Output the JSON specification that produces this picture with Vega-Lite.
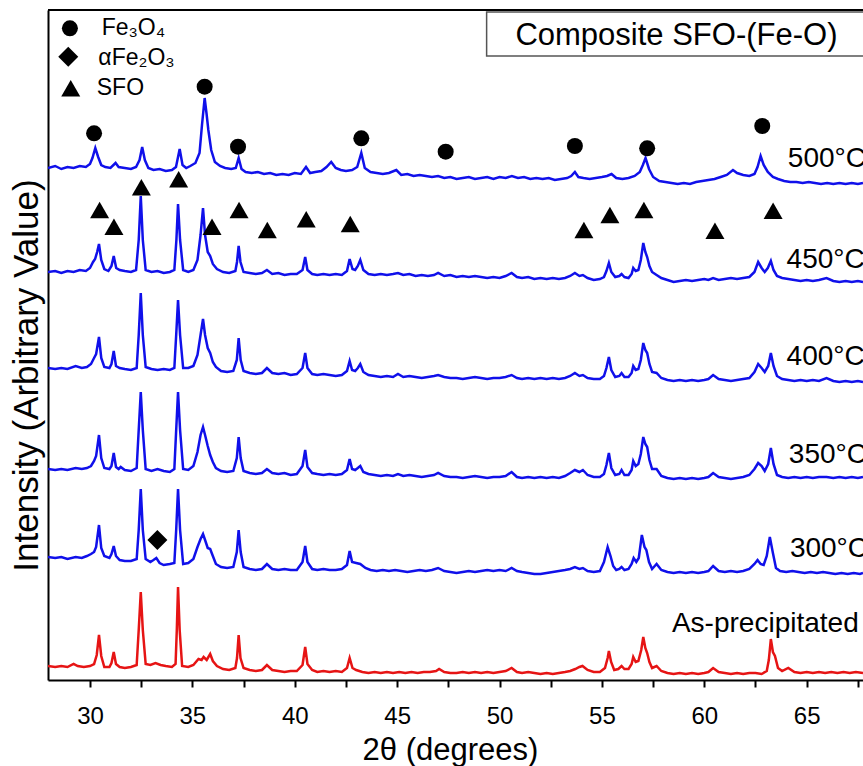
{
"$schema": "https://vega.github.io/schema/vega-lite/v6.json",
"width": 815, "height": 670,
"autosize": {"type": "none"},
"padding": {"left": 48, "top": 10, "right": 0, "bottom": 86},
"background": "white",
"config": {
 "font": "Liberation Sans",
 "view": {"stroke": null},
 "axis": {"grid": false, "domainColor": "black", "domainWidth": 2, "tickColor": "black", "tickWidth": 2, "tickSize": 7, "labelFontSize": 24, "labelColor": "black", "labelFont": "Liberation Sans", "titleFont": "Liberation Sans", "titleFontSize": 31, "titleFontWeight": "normal", "titleColor": "black"}
},
"datasets": {
"xrd": [
{"s":"500","x":27.95,"y":512},{"s":"500","x":28.3,"y":514},{"s":"500","x":28.6,"y":511},{"s":"500","x":28.9,"y":513},{"s":"500","x":29.2,"y":512},{"s":"500","x":29.5,"y":514},{"s":"500","x":29.8,"y":513},{"s":"500","x":30.0,"y":516},{"s":"500","x":30.12,"y":522},{"s":"500","x":30.26,"y":532},{"s":"500","x":30.4,"y":523},{"s":"500","x":30.55,"y":515},{"s":"500","x":30.75,"y":513},{"s":"500","x":31.0,"y":512},{"s":"500","x":31.25,"y":517},{"s":"500","x":31.4,"y":513},{"s":"500","x":31.7,"y":512},{"s":"500","x":32.0,"y":511},{"s":"500","x":32.25,"y":513},{"s":"500","x":32.42,"y":520},{"s":"500","x":32.55,"y":533},{"s":"500","x":32.68,"y":520},{"s":"500","x":32.85,"y":512},{"s":"500","x":33.1,"y":510},{"s":"500","x":33.4,"y":511},{"s":"500","x":33.7,"y":509},{"s":"500","x":34.0,"y":510},{"s":"500","x":34.2,"y":513},{"s":"500","x":34.38,"y":531},{"s":"500","x":34.52,"y":515},{"s":"500","x":34.7,"y":512},{"s":"500","x":34.9,"y":514},{"s":"500","x":35.15,"y":517},{"s":"500","x":35.35,"y":527},{"s":"500","x":35.47,"y":555},{"s":"500","x":35.6,"y":582},{"s":"500","x":35.7,"y":565},{"s":"500","x":35.78,"y":550},{"s":"500","x":35.92,"y":530},{"s":"500","x":36.1,"y":518},{"s":"500","x":36.35,"y":514},{"s":"500","x":36.6,"y":512},{"s":"500","x":36.9,"y":511},{"s":"500","x":37.12,"y":512},{"s":"500","x":37.26,"y":522},{"s":"500","x":37.4,"y":511},{"s":"500","x":37.6,"y":508},{"s":"500","x":37.9,"y":507},{"s":"500","x":38.2,"y":508},{"s":"500","x":38.5,"y":506},{"s":"500","x":38.8,"y":507},{"s":"500","x":39.1,"y":505},{"s":"500","x":39.4,"y":506},{"s":"500","x":39.7,"y":505},{"s":"500","x":40.0,"y":507},{"s":"500","x":40.3,"y":506},{"s":"500","x":40.55,"y":513},{"s":"500","x":40.75,"y":507},{"s":"500","x":41.0,"y":508},{"s":"500","x":41.3,"y":509},{"s":"500","x":41.55,"y":513},{"s":"500","x":41.78,"y":518},{"s":"500","x":42.0,"y":512},{"s":"500","x":42.25,"y":510},{"s":"500","x":42.5,"y":509},{"s":"500","x":42.8,"y":510},{"s":"500","x":43.05,"y":513},{"s":"500","x":43.25,"y":527},{"s":"500","x":43.42,"y":512},{"s":"500","x":43.7,"y":508},{"s":"500","x":44.0,"y":507},{"s":"500","x":44.3,"y":506},{"s":"500","x":44.6,"y":507},{"s":"500","x":44.96,"y":510},{"s":"500","x":45.2,"y":505},{"s":"500","x":45.5,"y":506},{"s":"500","x":45.8,"y":504},{"s":"500","x":46.1,"y":505},{"s":"500","x":46.4,"y":504},{"s":"500","x":46.7,"y":503},{"s":"500","x":47.0,"y":504},{"s":"500","x":47.3,"y":502},{"s":"500","x":47.6,"y":503},{"s":"500","x":47.9,"y":501},{"s":"500","x":48.2,"y":502},{"s":"500","x":48.5,"y":503},{"s":"500","x":48.8,"y":501},{"s":"500","x":49.1,"y":502},{"s":"500","x":49.4,"y":503},{"s":"500","x":49.7,"y":501},{"s":"500","x":50.0,"y":503},{"s":"500","x":50.3,"y":502},{"s":"500","x":50.6,"y":504},{"s":"500","x":50.9,"y":502},{"s":"500","x":51.2,"y":503},{"s":"500","x":51.5,"y":501},{"s":"500","x":51.8,"y":502},{"s":"500","x":52.1,"y":501},{"s":"500","x":52.4,"y":502},{"s":"500","x":52.7,"y":500},{"s":"500","x":53.0,"y":501},{"s":"500","x":53.3,"y":502},{"s":"500","x":53.5,"y":504},{"s":"500","x":53.68,"y":508},{"s":"500","x":53.85,"y":503},{"s":"500","x":54.1,"y":502},{"s":"500","x":54.4,"y":501},{"s":"500","x":54.7,"y":502},{"s":"500","x":55.0,"y":503},{"s":"500","x":55.25,"y":504},{"s":"500","x":55.47,"y":506},{"s":"500","x":55.7,"y":502},{"s":"500","x":56.0,"y":501},{"s":"500","x":56.3,"y":502},{"s":"500","x":56.6,"y":504},{"s":"500","x":56.85,"y":508},{"s":"500","x":57.0,"y":515},{"s":"500","x":57.13,"y":522},{"s":"500","x":57.3,"y":511},{"s":"500","x":57.5,"y":503},{"s":"500","x":57.8,"y":499},{"s":"500","x":58.1,"y":498},{"s":"500","x":58.4,"y":497},{"s":"500","x":58.7,"y":496},{"s":"500","x":59.0,"y":497},{"s":"500","x":59.3,"y":496},{"s":"500","x":59.6,"y":498},{"s":"500","x":59.9,"y":499},{"s":"500","x":60.2,"y":500},{"s":"500","x":60.5,"y":501},{"s":"500","x":60.8,"y":503},{"s":"500","x":61.1,"y":505},{"s":"500","x":61.4,"y":510},{"s":"500","x":61.6,"y":507},{"s":"500","x":61.9,"y":505},{"s":"500","x":62.2,"y":504},{"s":"500","x":62.45,"y":506},{"s":"500","x":62.6,"y":513},{"s":"500","x":62.75,"y":524},{"s":"500","x":62.9,"y":515},{"s":"500","x":63.1,"y":508},{"s":"500","x":63.35,"y":503},{"s":"500","x":63.6,"y":501},{"s":"500","x":63.9,"y":499},{"s":"500","x":64.2,"y":498},{"s":"500","x":64.5,"y":498},{"s":"500","x":64.8,"y":497},{"s":"500","x":65.1,"y":498},{"s":"500","x":65.4,"y":497},{"s":"500","x":65.7,"y":496},{"s":"500","x":66.0,"y":497},{"s":"500","x":66.3,"y":496},{"s":"500","x":66.6,"y":497},{"s":"500","x":66.9,"y":496},{"s":"500","x":67.2,"y":497},{"s":"500","x":67.5,"y":496},{"s":"500","x":67.75,"y":497},
{"s":"450","x":27.95,"y":408},{"s":"450","x":28.3,"y":409},{"s":"450","x":28.6,"y":407},{"s":"450","x":28.9,"y":409},{"s":"450","x":29.2,"y":408},{"s":"450","x":29.5,"y":410},{"s":"450","x":29.8,"y":409},{"s":"450","x":30.0,"y":412},{"s":"450","x":30.15,"y":418},{"s":"450","x":30.25,"y":421},{"s":"450","x":30.35,"y":428},{"s":"450","x":30.44,"y":436},{"s":"450","x":30.55,"y":420},{"s":"450","x":30.7,"y":411},{"s":"450","x":30.9,"y":409},{"s":"450","x":31.05,"y":414},{"s":"450","x":31.16,"y":424},{"s":"450","x":31.28,"y":412},{"s":"450","x":31.45,"y":410},{"s":"450","x":31.7,"y":409},{"s":"450","x":32.0,"y":408},{"s":"450","x":32.25,"y":410},{"s":"450","x":32.38,"y":440},{"s":"450","x":32.48,"y":484},{"s":"450","x":32.58,"y":440},{"s":"450","x":32.72,"y":410},{"s":"450","x":33.0,"y":408},{"s":"450","x":33.3,"y":409},{"s":"450","x":33.6,"y":407},{"s":"450","x":33.9,"y":408},{"s":"450","x":34.12,"y":410},{"s":"450","x":34.22,"y":440},{"s":"450","x":34.3,"y":476},{"s":"450","x":34.4,"y":440},{"s":"450","x":34.55,"y":410},{"s":"450","x":34.8,"y":408},{"s":"450","x":35.05,"y":410},{"s":"450","x":35.25,"y":420},{"s":"450","x":35.4,"y":445},{"s":"450","x":35.52,"y":472},{"s":"450","x":35.62,"y":445},{"s":"450","x":35.75,"y":428},{"s":"450","x":35.87,"y":424},{"s":"450","x":36.0,"y":416},{"s":"450","x":36.2,"y":411},{"s":"450","x":36.5,"y":408},{"s":"450","x":36.8,"y":407},{"s":"450","x":37.1,"y":409},{"s":"450","x":37.18,"y":418},{"s":"450","x":37.26,"y":434},{"s":"450","x":37.35,"y":418},{"s":"450","x":37.5,"y":408},{"s":"450","x":37.8,"y":407},{"s":"450","x":38.1,"y":406},{"s":"450","x":38.4,"y":407},{"s":"450","x":38.64,"y":410},{"s":"450","x":38.9,"y":406},{"s":"450","x":39.2,"y":407},{"s":"450","x":39.5,"y":405},{"s":"450","x":39.8,"y":406},{"s":"450","x":40.1,"y":406},{"s":"450","x":40.38,"y":410},{"s":"450","x":40.51,"y":423},{"s":"450","x":40.62,"y":410},{"s":"450","x":40.85,"y":406},{"s":"450","x":41.1,"y":405},{"s":"450","x":41.4,"y":406},{"s":"450","x":41.7,"y":405},{"s":"450","x":42.0,"y":406},{"s":"450","x":42.3,"y":405},{"s":"450","x":42.55,"y":409},{"s":"450","x":42.68,"y":421},{"s":"450","x":42.82,"y":411},{"s":"450","x":42.95,"y":410},{"s":"450","x":43.08,"y":414},{"s":"450","x":43.2,"y":420},{"s":"450","x":43.35,"y":410},{"s":"450","x":43.6,"y":406},{"s":"450","x":43.9,"y":405},{"s":"450","x":44.2,"y":406},{"s":"450","x":44.5,"y":405},{"s":"450","x":44.8,"y":406},{"s":"450","x":45.04,"y":407},{"s":"450","x":45.3,"y":405},{"s":"450","x":45.6,"y":406},{"s":"450","x":45.9,"y":404},{"s":"450","x":46.2,"y":405},{"s":"450","x":46.5,"y":404},{"s":"450","x":46.8,"y":405},{"s":"450","x":47.0,"y":407},{"s":"450","x":47.3,"y":404},{"s":"450","x":47.6,"y":405},{"s":"450","x":47.9,"y":403},{"s":"450","x":48.2,"y":404},{"s":"450","x":48.5,"y":403},{"s":"450","x":48.8,"y":404},{"s":"450","x":49.1,"y":403},{"s":"450","x":49.4,"y":402},{"s":"450","x":49.7,"y":403},{"s":"450","x":50.0,"y":402},{"s":"450","x":50.3,"y":404},{"s":"450","x":50.59,"y":407},{"s":"450","x":50.85,"y":403},{"s":"450","x":51.1,"y":402},{"s":"450","x":51.4,"y":403},{"s":"450","x":51.7,"y":401},{"s":"450","x":52.0,"y":402},{"s":"450","x":52.3,"y":401},{"s":"450","x":52.6,"y":402},{"s":"450","x":52.9,"y":401},{"s":"450","x":53.2,"y":402},{"s":"450","x":53.45,"y":404},{"s":"450","x":53.68,"y":407},{"s":"450","x":53.9,"y":404},{"s":"450","x":54.07,"y":405},{"s":"450","x":54.3,"y":402},{"s":"450","x":54.6,"y":400},{"s":"450","x":54.9,"y":401},{"s":"450","x":55.1,"y":403},{"s":"450","x":55.22,"y":409},{"s":"450","x":55.34,"y":417},{"s":"450","x":55.46,"y":408},{"s":"450","x":55.65,"y":403},{"s":"450","x":55.85,"y":404},{"s":"450","x":55.96,"y":406},{"s":"450","x":56.1,"y":403},{"s":"450","x":56.3,"y":402},{"s":"450","x":56.45,"y":406},{"s":"450","x":56.53,"y":412},{"s":"450","x":56.65,"y":409},{"s":"450","x":56.78,"y":410},{"s":"450","x":56.9,"y":420},{"s":"450","x":57.02,"y":437},{"s":"450","x":57.12,"y":428},{"s":"450","x":57.21,"y":423},{"s":"450","x":57.32,"y":414},{"s":"450","x":57.45,"y":408},{"s":"450","x":57.67,"y":405},{"s":"450","x":57.9,"y":402},{"s":"450","x":58.2,"y":400},{"s":"450","x":58.5,"y":398},{"s":"450","x":58.8,"y":399},{"s":"450","x":59.1,"y":400},{"s":"450","x":59.4,"y":399},{"s":"450","x":59.7,"y":400},{"s":"450","x":60.0,"y":401},{"s":"450","x":60.2,"y":400},{"s":"450","x":60.43,"y":402},{"s":"450","x":60.7,"y":400},{"s":"450","x":61.0,"y":401},{"s":"450","x":61.3,"y":402},{"s":"450","x":61.6,"y":401},{"s":"450","x":61.9,"y":402},{"s":"450","x":62.2,"y":403},{"s":"450","x":62.45,"y":408},{"s":"450","x":62.63,"y":418},{"s":"450","x":62.8,"y":412},{"s":"450","x":62.95,"y":408},{"s":"450","x":63.1,"y":412},{"s":"450","x":63.25,"y":419},{"s":"450","x":63.38,"y":410},{"s":"450","x":63.55,"y":404},{"s":"450","x":63.8,"y":402},{"s":"450","x":64.1,"y":401},{"s":"450","x":64.4,"y":400},{"s":"450","x":64.7,"y":399},{"s":"450","x":65.0,"y":400},{"s":"450","x":65.3,"y":399},{"s":"450","x":65.6,"y":400},{"s":"450","x":65.97,"y":402},{"s":"450","x":66.3,"y":399},{"s":"450","x":66.6,"y":398},{"s":"450","x":66.9,"y":399},{"s":"450","x":67.2,"y":398},{"s":"450","x":67.5,"y":399},{"s":"450","x":67.75,"y":398},
{"s":"400","x":27.95,"y":312},{"s":"400","x":28.3,"y":311},{"s":"400","x":28.6,"y":312},{"s":"400","x":28.9,"y":311},{"s":"400","x":29.3,"y":314},{"s":"400","x":29.6,"y":312},{"s":"400","x":29.85,"y":313},{"s":"400","x":30.05,"y":316},{"s":"400","x":30.2,"y":322},{"s":"400","x":30.3,"y":326},{"s":"400","x":30.44,"y":343},{"s":"400","x":30.55,"y":322},{"s":"400","x":30.7,"y":313},{"s":"400","x":30.95,"y":312},{"s":"400","x":31.05,"y":316},{"s":"400","x":31.16,"y":329},{"s":"400","x":31.27,"y":314},{"s":"400","x":31.45,"y":312},{"s":"400","x":31.7,"y":311},{"s":"400","x":32.0,"y":310},{"s":"400","x":32.28,"y":312},{"s":"400","x":32.38,"y":345},{"s":"400","x":32.48,"y":387},{"s":"400","x":32.58,"y":345},{"s":"400","x":32.72,"y":313},{"s":"400","x":33.0,"y":311},{"s":"400","x":33.3,"y":310},{"s":"400","x":33.6,"y":311},{"s":"400","x":33.9,"y":310},{"s":"400","x":34.12,"y":312},{"s":"400","x":34.21,"y":345},{"s":"400","x":34.3,"y":380},{"s":"400","x":34.4,"y":345},{"s":"400","x":34.55,"y":312},{"s":"400","x":34.8,"y":312},{"s":"400","x":35.05,"y":314},{"s":"400","x":35.25,"y":325},{"s":"400","x":35.4,"y":345},{"s":"400","x":35.52,"y":361},{"s":"400","x":35.62,"y":345},{"s":"400","x":35.75,"y":332},{"s":"400","x":35.87,"y":327},{"s":"400","x":36.0,"y":318},{"s":"400","x":36.15,"y":313},{"s":"400","x":36.4,"y":309},{"s":"400","x":36.7,"y":308},{"s":"400","x":37.0,"y":309},{"s":"400","x":37.17,"y":320},{"s":"400","x":37.26,"y":342},{"s":"400","x":37.36,"y":320},{"s":"400","x":37.5,"y":309},{"s":"400","x":37.8,"y":307},{"s":"400","x":38.1,"y":306},{"s":"400","x":38.4,"y":307},{"s":"400","x":38.64,"y":312},{"s":"400","x":38.9,"y":307},{"s":"400","x":39.2,"y":306},{"s":"400","x":39.5,"y":307},{"s":"400","x":39.8,"y":305},{"s":"400","x":40.1,"y":306},{"s":"400","x":40.38,"y":312},{"s":"400","x":40.51,"y":327},{"s":"400","x":40.62,"y":312},{"s":"400","x":40.85,"y":306},{"s":"400","x":41.1,"y":305},{"s":"400","x":41.4,"y":306},{"s":"400","x":41.7,"y":305},{"s":"400","x":42.0,"y":304},{"s":"400","x":42.3,"y":305},{"s":"400","x":42.55,"y":309},{"s":"400","x":42.68,"y":319},{"s":"400","x":42.8,"y":310},{"s":"400","x":42.95,"y":309},{"s":"400","x":43.08,"y":312},{"s":"400","x":43.2,"y":316},{"s":"400","x":43.35,"y":308},{"s":"400","x":43.6,"y":305},{"s":"400","x":43.9,"y":304},{"s":"400","x":44.2,"y":303},{"s":"400","x":44.5,"y":304},{"s":"400","x":44.8,"y":303},{"s":"400","x":45.04,"y":306},{"s":"400","x":45.3,"y":303},{"s":"400","x":45.6,"y":304},{"s":"400","x":45.9,"y":303},{"s":"400","x":46.2,"y":302},{"s":"400","x":46.5,"y":303},{"s":"400","x":46.8,"y":304},{"s":"400","x":47.0,"y":305},{"s":"400","x":47.3,"y":303},{"s":"400","x":47.6,"y":302},{"s":"400","x":47.9,"y":302},{"s":"400","x":48.2,"y":301},{"s":"400","x":48.5,"y":302},{"s":"400","x":48.8,"y":303},{"s":"400","x":49.1,"y":302},{"s":"400","x":49.4,"y":301},{"s":"400","x":49.7,"y":302},{"s":"400","x":50.0,"y":302},{"s":"400","x":50.3,"y":303},{"s":"400","x":50.59,"y":305},{"s":"400","x":50.85,"y":302},{"s":"400","x":51.1,"y":301},{"s":"400","x":51.4,"y":302},{"s":"400","x":51.7,"y":301},{"s":"400","x":52.0,"y":302},{"s":"400","x":52.3,"y":301},{"s":"400","x":52.6,"y":302},{"s":"400","x":52.9,"y":301},{"s":"400","x":53.2,"y":302},{"s":"400","x":53.45,"y":304},{"s":"400","x":53.68,"y":307},{"s":"400","x":53.9,"y":304},{"s":"400","x":54.07,"y":305},{"s":"400","x":54.3,"y":302},{"s":"400","x":54.6,"y":301},{"s":"400","x":54.9,"y":301},{"s":"400","x":55.1,"y":304},{"s":"400","x":55.22,"y":312},{"s":"400","x":55.34,"y":323},{"s":"400","x":55.46,"y":310},{"s":"400","x":55.65,"y":303},{"s":"400","x":55.85,"y":304},{"s":"400","x":55.96,"y":307},{"s":"400","x":56.1,"y":303},{"s":"400","x":56.3,"y":303},{"s":"400","x":56.45,"y":307},{"s":"400","x":56.53,"y":314},{"s":"400","x":56.65,"y":310},{"s":"400","x":56.78,"y":311},{"s":"400","x":56.9,"y":320},{"s":"400","x":57.02,"y":337},{"s":"400","x":57.12,"y":330},{"s":"400","x":57.21,"y":327},{"s":"400","x":57.32,"y":316},{"s":"400","x":57.45,"y":308},{"s":"400","x":57.67,"y":307},{"s":"400","x":57.9,"y":302},{"s":"400","x":58.2,"y":300},{"s":"400","x":58.5,"y":299},{"s":"400","x":58.8,"y":300},{"s":"400","x":59.1,"y":299},{"s":"400","x":59.4,"y":300},{"s":"400","x":59.7,"y":299},{"s":"400","x":60.0,"y":300},{"s":"400","x":60.2,"y":301},{"s":"400","x":60.43,"y":305},{"s":"400","x":60.7,"y":301},{"s":"400","x":61.0,"y":300},{"s":"400","x":61.3,"y":299},{"s":"400","x":61.6,"y":300},{"s":"400","x":61.9,"y":301},{"s":"400","x":62.2,"y":302},{"s":"400","x":62.45,"y":308},{"s":"400","x":62.63,"y":316},{"s":"400","x":62.8,"y":312},{"s":"400","x":62.95,"y":308},{"s":"400","x":63.12,"y":314},{"s":"400","x":63.25,"y":327},{"s":"400","x":63.38,"y":314},{"s":"400","x":63.55,"y":304},{"s":"400","x":63.8,"y":301},{"s":"400","x":64.1,"y":300},{"s":"400","x":64.4,"y":299},{"s":"400","x":64.7,"y":300},{"s":"400","x":65.0,"y":299},{"s":"400","x":65.3,"y":300},{"s":"400","x":65.6,"y":299},{"s":"400","x":65.97,"y":302},{"s":"400","x":66.3,"y":299},{"s":"400","x":66.6,"y":298},{"s":"400","x":66.9,"y":299},{"s":"400","x":67.2,"y":298},{"s":"400","x":67.5,"y":299},{"s":"400","x":67.75,"y":298},
{"s":"350","x":27.95,"y":211},{"s":"350","x":28.3,"y":210},{"s":"350","x":28.6,"y":211},{"s":"350","x":28.9,"y":210},{"s":"350","x":29.3,"y":212},{"s":"350","x":29.6,"y":211},{"s":"350","x":29.85,"y":212},{"s":"350","x":30.05,"y":214},{"s":"350","x":30.2,"y":219},{"s":"350","x":30.3,"y":224},{"s":"350","x":30.44,"y":245},{"s":"350","x":30.55,"y":222},{"s":"350","x":30.7,"y":212},{"s":"350","x":30.95,"y":211},{"s":"350","x":31.05,"y":214},{"s":"350","x":31.16,"y":227},{"s":"350","x":31.27,"y":213},{"s":"350","x":31.4,"y":211},{"s":"350","x":31.5,"y":213},{"s":"350","x":31.7,"y":210},{"s":"350","x":32.0,"y":209},{"s":"350","x":32.28,"y":212},{"s":"350","x":32.38,"y":250},{"s":"350","x":32.48,"y":288},{"s":"350","x":32.58,"y":250},{"s":"350","x":32.72,"y":211},{"s":"350","x":33.0,"y":209},{"s":"350","x":33.3,"y":211},{"s":"350","x":33.6,"y":209},{"s":"350","x":33.9,"y":208},{"s":"350","x":34.12,"y":211},{"s":"350","x":34.21,"y":250},{"s":"350","x":34.3,"y":288},{"s":"350","x":34.4,"y":250},{"s":"350","x":34.55,"y":211},{"s":"350","x":34.8,"y":210},{"s":"350","x":35.05,"y":214},{"s":"350","x":35.25,"y":228},{"s":"350","x":35.4,"y":245},{"s":"350","x":35.52,"y":253},{"s":"350","x":35.62,"y":245},{"s":"350","x":35.75,"y":234},{"s":"350","x":35.87,"y":225},{"s":"350","x":36.0,"y":218},{"s":"350","x":36.15,"y":212},{"s":"350","x":36.4,"y":209},{"s":"350","x":36.7,"y":208},{"s":"350","x":37.0,"y":209},{"s":"350","x":37.17,"y":222},{"s":"350","x":37.26,"y":243},{"s":"350","x":37.36,"y":222},{"s":"350","x":37.5,"y":209},{"s":"350","x":37.8,"y":207},{"s":"350","x":38.1,"y":206},{"s":"350","x":38.4,"y":207},{"s":"350","x":38.64,"y":211},{"s":"350","x":38.9,"y":207},{"s":"350","x":39.2,"y":206},{"s":"350","x":39.5,"y":207},{"s":"350","x":39.8,"y":205},{"s":"350","x":40.1,"y":206},{"s":"350","x":40.38,"y":214},{"s":"350","x":40.51,"y":230},{"s":"350","x":40.62,"y":213},{"s":"350","x":40.85,"y":207},{"s":"350","x":41.1,"y":206},{"s":"350","x":41.4,"y":205},{"s":"350","x":41.7,"y":206},{"s":"350","x":42.0,"y":205},{"s":"350","x":42.3,"y":206},{"s":"350","x":42.55,"y":210},{"s":"350","x":42.68,"y":221},{"s":"350","x":42.8,"y":211},{"s":"350","x":42.95,"y":210},{"s":"350","x":43.08,"y":212},{"s":"350","x":43.2,"y":214},{"s":"350","x":43.35,"y":208},{"s":"350","x":43.6,"y":206},{"s":"350","x":43.9,"y":205},{"s":"350","x":44.2,"y":204},{"s":"350","x":44.5,"y":205},{"s":"350","x":44.8,"y":204},{"s":"350","x":45.04,"y":206},{"s":"350","x":45.3,"y":204},{"s":"350","x":45.6,"y":205},{"s":"350","x":45.9,"y":204},{"s":"350","x":46.2,"y":203},{"s":"350","x":46.5,"y":204},{"s":"350","x":46.8,"y":205},{"s":"350","x":47.0,"y":207},{"s":"350","x":47.3,"y":204},{"s":"350","x":47.6,"y":203},{"s":"350","x":47.9,"y":203},{"s":"350","x":48.2,"y":202},{"s":"350","x":48.5,"y":203},{"s":"350","x":48.8,"y":204},{"s":"350","x":49.1,"y":203},{"s":"350","x":49.4,"y":202},{"s":"350","x":49.7,"y":203},{"s":"350","x":50.0,"y":203},{"s":"350","x":50.3,"y":204},{"s":"350","x":50.59,"y":208},{"s":"350","x":50.85,"y":203},{"s":"350","x":51.1,"y":202},{"s":"350","x":51.4,"y":203},{"s":"350","x":51.7,"y":202},{"s":"350","x":52.0,"y":203},{"s":"350","x":52.3,"y":202},{"s":"350","x":52.6,"y":203},{"s":"350","x":52.9,"y":202},{"s":"350","x":53.2,"y":204},{"s":"350","x":53.45,"y":207},{"s":"350","x":53.68,"y":210},{"s":"350","x":53.9,"y":208},{"s":"350","x":54.07,"y":210},{"s":"350","x":54.3,"y":205},{"s":"350","x":54.6,"y":203},{"s":"350","x":54.9,"y":203},{"s":"350","x":55.1,"y":206},{"s":"350","x":55.22,"y":215},{"s":"350","x":55.34,"y":227},{"s":"350","x":55.46,"y":212},{"s":"350","x":55.65,"y":205},{"s":"350","x":55.85,"y":206},{"s":"350","x":55.96,"y":210},{"s":"350","x":56.1,"y":205},{"s":"350","x":56.3,"y":205},{"s":"350","x":56.45,"y":210},{"s":"350","x":56.53,"y":219},{"s":"350","x":56.65,"y":214},{"s":"350","x":56.78,"y":216},{"s":"350","x":56.9,"y":226},{"s":"350","x":57.02,"y":243},{"s":"350","x":57.12,"y":236},{"s":"350","x":57.21,"y":233},{"s":"350","x":57.32,"y":220},{"s":"350","x":57.45,"y":211},{"s":"350","x":57.67,"y":211},{"s":"350","x":57.9,"y":204},{"s":"350","x":58.2,"y":202},{"s":"350","x":58.5,"y":201},{"s":"350","x":58.8,"y":202},{"s":"350","x":59.1,"y":201},{"s":"350","x":59.4,"y":202},{"s":"350","x":59.7,"y":201},{"s":"350","x":60.0,"y":202},{"s":"350","x":60.2,"y":203},{"s":"350","x":60.43,"y":207},{"s":"350","x":60.7,"y":203},{"s":"350","x":61.0,"y":202},{"s":"350","x":61.3,"y":201},{"s":"350","x":61.6,"y":202},{"s":"350","x":61.9,"y":203},{"s":"350","x":62.2,"y":205},{"s":"350","x":62.45,"y":211},{"s":"350","x":62.63,"y":217},{"s":"350","x":62.8,"y":214},{"s":"350","x":62.95,"y":209},{"s":"350","x":63.12,"y":216},{"s":"350","x":63.25,"y":232},{"s":"350","x":63.38,"y":216},{"s":"350","x":63.55,"y":205},{"s":"350","x":63.8,"y":203},{"s":"350","x":64.1,"y":202},{"s":"350","x":64.4,"y":203},{"s":"350","x":64.7,"y":202},{"s":"350","x":65.0,"y":203},{"s":"350","x":65.3,"y":202},{"s":"350","x":65.6,"y":203},{"s":"350","x":65.97,"y":203},{"s":"350","x":66.3,"y":202},{"s":"350","x":66.6,"y":203},{"s":"350","x":66.9,"y":202},{"s":"350","x":67.2,"y":203},{"s":"350","x":67.5,"y":202},{"s":"350","x":67.75,"y":203},
{"s":"300","x":27.95,"y":123},{"s":"300","x":28.3,"y":122},{"s":"300","x":28.6,"y":123},{"s":"300","x":28.9,"y":121},{"s":"300","x":29.3,"y":123},{"s":"300","x":29.6,"y":122},{"s":"300","x":29.85,"y":124},{"s":"300","x":30.05,"y":126},{"s":"300","x":30.2,"y":128},{"s":"300","x":30.3,"y":133},{"s":"300","x":30.44,"y":155},{"s":"300","x":30.55,"y":132},{"s":"300","x":30.7,"y":124},{"s":"300","x":30.95,"y":122},{"s":"300","x":31.05,"y":126},{"s":"300","x":31.16,"y":134},{"s":"300","x":31.27,"y":124},{"s":"300","x":31.45,"y":120},{"s":"300","x":31.7,"y":119},{"s":"300","x":32.0,"y":119},{"s":"300","x":32.28,"y":121},{"s":"300","x":32.38,"y":150},{"s":"300","x":32.48,"y":191},{"s":"300","x":32.58,"y":150},{"s":"300","x":32.72,"y":121},{"s":"300","x":32.95,"y":118},{"s":"300","x":33.1,"y":120},{"s":"300","x":33.24,"y":122},{"s":"300","x":33.4,"y":117},{"s":"300","x":33.6,"y":115},{"s":"300","x":33.9,"y":116},{"s":"300","x":34.12,"y":117},{"s":"300","x":34.21,"y":150},{"s":"300","x":34.3,"y":191},{"s":"300","x":34.4,"y":150},{"s":"300","x":34.55,"y":116},{"s":"300","x":34.8,"y":117},{"s":"300","x":35.05,"y":121},{"s":"300","x":35.25,"y":133},{"s":"300","x":35.4,"y":141},{"s":"300","x":35.52,"y":146},{"s":"300","x":35.62,"y":140},{"s":"300","x":35.75,"y":132},{"s":"300","x":35.87,"y":131},{"s":"300","x":36.0,"y":124},{"s":"300","x":36.15,"y":116},{"s":"300","x":36.4,"y":113},{"s":"300","x":36.7,"y":112},{"s":"300","x":37.0,"y":113},{"s":"300","x":37.17,"y":128},{"s":"300","x":37.26,"y":150},{"s":"300","x":37.36,"y":128},{"s":"300","x":37.5,"y":113},{"s":"300","x":37.8,"y":111},{"s":"300","x":38.1,"y":110},{"s":"300","x":38.4,"y":111},{"s":"300","x":38.64,"y":116},{"s":"300","x":38.9,"y":111},{"s":"300","x":39.2,"y":110},{"s":"300","x":39.5,"y":111},{"s":"300","x":39.8,"y":110},{"s":"300","x":40.1,"y":110},{"s":"300","x":40.38,"y":118},{"s":"300","x":40.51,"y":134},{"s":"300","x":40.62,"y":118},{"s":"300","x":40.85,"y":111},{"s":"300","x":41.1,"y":110},{"s":"300","x":41.4,"y":111},{"s":"300","x":41.7,"y":110},{"s":"300","x":42.0,"y":110},{"s":"300","x":42.3,"y":111},{"s":"300","x":42.55,"y":115},{"s":"300","x":42.68,"y":129},{"s":"300","x":42.8,"y":118},{"s":"300","x":43.0,"y":117},{"s":"300","x":43.2,"y":116},{"s":"300","x":43.45,"y":112},{"s":"300","x":43.7,"y":110},{"s":"300","x":44.0,"y":109},{"s":"300","x":44.3,"y":110},{"s":"300","x":44.6,"y":109},{"s":"300","x":44.9,"y":110},{"s":"300","x":45.2,"y":109},{"s":"300","x":45.5,"y":108},{"s":"300","x":45.8,"y":109},{"s":"300","x":46.1,"y":110},{"s":"300","x":46.4,"y":109},{"s":"300","x":46.7,"y":110},{"s":"300","x":47.0,"y":112},{"s":"300","x":47.3,"y":109},{"s":"300","x":47.6,"y":108},{"s":"300","x":47.9,"y":107},{"s":"300","x":48.2,"y":108},{"s":"300","x":48.5,"y":109},{"s":"300","x":48.8,"y":108},{"s":"300","x":49.1,"y":109},{"s":"300","x":49.4,"y":110},{"s":"300","x":49.7,"y":109},{"s":"300","x":50.0,"y":110},{"s":"300","x":50.3,"y":109},{"s":"300","x":50.59,"y":112},{"s":"300","x":50.85,"y":109},{"s":"300","x":51.1,"y":108},{"s":"300","x":51.4,"y":107},{"s":"300","x":51.7,"y":106},{"s":"300","x":52.0,"y":106},{"s":"300","x":52.3,"y":107},{"s":"300","x":52.6,"y":108},{"s":"300","x":52.9,"y":109},{"s":"300","x":53.2,"y":110},{"s":"300","x":53.45,"y":111},{"s":"300","x":53.68,"y":113},{"s":"300","x":53.9,"y":111},{"s":"300","x":54.07,"y":112},{"s":"300","x":54.3,"y":109},{"s":"300","x":54.6,"y":108},{"s":"300","x":54.9,"y":109},{"s":"300","x":55.1,"y":118},{"s":"300","x":55.28,"y":133},{"s":"300","x":55.42,"y":124},{"s":"300","x":55.55,"y":114},{"s":"300","x":55.7,"y":110},{"s":"300","x":55.85,"y":111},{"s":"300","x":55.96,"y":113},{"s":"300","x":56.1,"y":110},{"s":"300","x":56.3,"y":111},{"s":"300","x":56.45,"y":116},{"s":"300","x":56.55,"y":122},{"s":"300","x":56.68,"y":118},{"s":"300","x":56.8,"y":122},{"s":"300","x":56.95,"y":145},{"s":"300","x":57.08,"y":133},{"s":"300","x":57.17,"y":130},{"s":"300","x":57.3,"y":118},{"s":"300","x":57.45,"y":111},{"s":"300","x":57.67,"y":116},{"s":"300","x":57.9,"y":110},{"s":"300","x":58.2,"y":108},{"s":"300","x":58.5,"y":107},{"s":"300","x":58.8,"y":108},{"s":"300","x":59.1,"y":107},{"s":"300","x":59.4,"y":108},{"s":"300","x":59.7,"y":107},{"s":"300","x":60.0,"y":108},{"s":"300","x":60.2,"y":109},{"s":"300","x":60.43,"y":114},{"s":"300","x":60.7,"y":109},{"s":"300","x":61.0,"y":108},{"s":"300","x":61.3,"y":109},{"s":"300","x":61.6,"y":108},{"s":"300","x":61.9,"y":109},{"s":"300","x":62.2,"y":111},{"s":"300","x":62.45,"y":116},{"s":"300","x":62.6,"y":120},{"s":"300","x":62.75,"y":116},{"s":"300","x":62.9,"y":115},{"s":"300","x":63.05,"y":124},{"s":"300","x":63.2,"y":143},{"s":"300","x":63.35,"y":127},{"s":"300","x":63.5,"y":112},{"s":"300","x":63.7,"y":109},{"s":"300","x":64.0,"y":108},{"s":"300","x":64.3,"y":109},{"s":"300","x":64.6,"y":108},{"s":"300","x":64.9,"y":107},{"s":"300","x":65.2,"y":108},{"s":"300","x":65.5,"y":107},{"s":"300","x":65.8,"y":108},{"s":"300","x":66.1,"y":107},{"s":"300","x":66.4,"y":106},{"s":"300","x":66.7,"y":107},{"s":"300","x":67.0,"y":106},{"s":"300","x":67.3,"y":107},{"s":"300","x":67.6,"y":106},{"s":"300","x":67.75,"y":107},
{"s":"AP","x":27.95,"y":14},{"s":"AP","x":28.3,"y":13},{"s":"AP","x":28.6,"y":14},{"s":"AP","x":28.9,"y":13},{"s":"AP","x":29.2,"y":16},{"s":"AP","x":29.4,"y":14},{"s":"AP","x":29.7,"y":13},{"s":"AP","x":30.0,"y":14},{"s":"AP","x":30.2,"y":16},{"s":"AP","x":30.33,"y":25},{"s":"AP","x":30.44,"y":45},{"s":"AP","x":30.55,"y":24},{"s":"AP","x":30.7,"y":13},{"s":"AP","x":30.95,"y":13},{"s":"AP","x":31.05,"y":17},{"s":"AP","x":31.16,"y":28},{"s":"AP","x":31.27,"y":16},{"s":"AP","x":31.45,"y":13},{"s":"AP","x":31.7,"y":12},{"s":"AP","x":32.0,"y":13},{"s":"AP","x":32.28,"y":15},{"s":"AP","x":32.38,"y":50},{"s":"AP","x":32.48,"y":88},{"s":"AP","x":32.58,"y":50},{"s":"AP","x":32.72,"y":16},{"s":"AP","x":32.95,"y":15},{"s":"AP","x":33.2,"y":17},{"s":"AP","x":33.45,"y":15},{"s":"AP","x":33.7,"y":14},{"s":"AP","x":34.0,"y":13},{"s":"AP","x":34.18,"y":16},{"s":"AP","x":34.24,"y":50},{"s":"AP","x":34.3,"y":93},{"s":"AP","x":34.38,"y":50},{"s":"AP","x":34.5,"y":14},{"s":"AP","x":34.8,"y":13},{"s":"AP","x":35.05,"y":15},{"s":"AP","x":35.3,"y":21},{"s":"AP","x":35.45,"y":20},{"s":"AP","x":35.55,"y":23},{"s":"AP","x":35.7,"y":20},{"s":"AP","x":35.87,"y":26},{"s":"AP","x":36.0,"y":19},{"s":"AP","x":36.2,"y":14},{"s":"AP","x":36.5,"y":11},{"s":"AP","x":36.8,"y":10},{"s":"AP","x":37.1,"y":12},{"s":"AP","x":37.18,"y":22},{"s":"AP","x":37.26,"y":45},{"s":"AP","x":37.35,"y":22},{"s":"AP","x":37.5,"y":12},{"s":"AP","x":37.8,"y":10},{"s":"AP","x":38.1,"y":9},{"s":"AP","x":38.4,"y":10},{"s":"AP","x":38.64,"y":15},{"s":"AP","x":38.9,"y":10},{"s":"AP","x":39.2,"y":9},{"s":"AP","x":39.5,"y":8},{"s":"AP","x":39.8,"y":9},{"s":"AP","x":40.1,"y":9},{"s":"AP","x":40.38,"y":15},{"s":"AP","x":40.51,"y":33},{"s":"AP","x":40.62,"y":16},{"s":"AP","x":40.85,"y":10},{"s":"AP","x":41.1,"y":8},{"s":"AP","x":41.4,"y":9},{"s":"AP","x":41.7,"y":8},{"s":"AP","x":42.0,"y":9},{"s":"AP","x":42.3,"y":8},{"s":"AP","x":42.55,"y":12},{"s":"AP","x":42.68,"y":22},{"s":"AP","x":42.82,"y":12},{"s":"AP","x":43.0,"y":10},{"s":"AP","x":43.3,"y":8},{"s":"AP","x":43.6,"y":7},{"s":"AP","x":43.9,"y":8},{"s":"AP","x":44.2,"y":7},{"s":"AP","x":44.5,"y":8},{"s":"AP","x":44.8,"y":7},{"s":"AP","x":45.1,"y":8},{"s":"AP","x":45.4,"y":7},{"s":"AP","x":45.7,"y":8},{"s":"AP","x":46.0,"y":7},{"s":"AP","x":46.3,"y":8},{"s":"AP","x":46.6,"y":8},{"s":"AP","x":46.9,"y":9},{"s":"AP","x":47.05,"y":11},{"s":"AP","x":47.3,"y":8},{"s":"AP","x":47.6,"y":7},{"s":"AP","x":47.9,"y":7},{"s":"AP","x":48.2,"y":8},{"s":"AP","x":48.5,"y":7},{"s":"AP","x":48.8,"y":8},{"s":"AP","x":49.1,"y":7},{"s":"AP","x":49.4,"y":8},{"s":"AP","x":49.7,"y":7},{"s":"AP","x":50.0,"y":8},{"s":"AP","x":50.3,"y":9},{"s":"AP","x":50.59,"y":12},{"s":"AP","x":50.85,"y":8},{"s":"AP","x":51.1,"y":7},{"s":"AP","x":51.4,"y":8},{"s":"AP","x":51.7,"y":7},{"s":"AP","x":52.0,"y":6},{"s":"AP","x":52.3,"y":7},{"s":"AP","x":52.6,"y":6},{"s":"AP","x":52.9,"y":7},{"s":"AP","x":53.2,"y":8},{"s":"AP","x":53.45,"y":9},{"s":"AP","x":53.7,"y":11},{"s":"AP","x":53.9,"y":13},{"s":"AP","x":54.05,"y":14},{"s":"AP","x":54.3,"y":10},{"s":"AP","x":54.6,"y":8},{"s":"AP","x":54.9,"y":8},{"s":"AP","x":55.15,"y":12},{"s":"AP","x":55.28,"y":22},{"s":"AP","x":55.34,"y":29},{"s":"AP","x":55.45,"y":18},{"s":"AP","x":55.6,"y":10},{"s":"AP","x":55.8,"y":11},{"s":"AP","x":55.96,"y":14},{"s":"AP","x":56.1,"y":11},{"s":"AP","x":56.3,"y":11},{"s":"AP","x":56.45,"y":16},{"s":"AP","x":56.53,"y":23},{"s":"AP","x":56.65,"y":18},{"s":"AP","x":56.78,"y":19},{"s":"AP","x":56.92,"y":30},{"s":"AP","x":57.02,"y":43},{"s":"AP","x":57.12,"y":32},{"s":"AP","x":57.21,"y":27},{"s":"AP","x":57.32,"y":18},{"s":"AP","x":57.45,"y":12},{"s":"AP","x":57.67,"y":14},{"s":"AP","x":57.9,"y":9},{"s":"AP","x":58.2,"y":7},{"s":"AP","x":58.5,"y":6},{"s":"AP","x":58.8,"y":7},{"s":"AP","x":59.1,"y":6},{"s":"AP","x":59.4,"y":7},{"s":"AP","x":59.7,"y":6},{"s":"AP","x":60.0,"y":7},{"s":"AP","x":60.2,"y":8},{"s":"AP","x":60.43,"y":12},{"s":"AP","x":60.7,"y":8},{"s":"AP","x":61.0,"y":7},{"s":"AP","x":61.3,"y":6},{"s":"AP","x":61.6,"y":7},{"s":"AP","x":61.9,"y":6},{"s":"AP","x":62.2,"y":7},{"s":"AP","x":62.5,"y":7},{"s":"AP","x":62.8,"y":6},{"s":"AP","x":63.05,"y":9},{"s":"AP","x":63.15,"y":20},{"s":"AP","x":63.25,"y":41},{"s":"AP","x":63.35,"y":28},{"s":"AP","x":63.45,"y":24},{"s":"AP","x":63.6,"y":12},{"s":"AP","x":63.8,"y":9},{"s":"AP","x":64.1,"y":12},{"s":"AP","x":64.4,"y":8},{"s":"AP","x":64.7,"y":7},{"s":"AP","x":65.0,"y":8},{"s":"AP","x":65.3,"y":7},{"s":"AP","x":65.6,"y":8},{"s":"AP","x":65.9,"y":7},{"s":"AP","x":66.2,"y":8},{"s":"AP","x":66.5,"y":7},{"s":"AP","x":66.8,"y":8},{"s":"AP","x":67.1,"y":7},{"s":"AP","x":67.4,"y":8},{"s":"AP","x":67.75,"y":7}
]
},
"layer": [
 {
  "data": {"values": [{"x": 49.37, "x2": 70, "y": 624, "y2": 668}]},
  "mark": {"type": "rect", "fill": "white", "stroke": "#555555", "strokeWidth": 1.5, "clip": true},
  "encoding": {
   "x": {"field": "x", "type": "quantitative", "title": "2θ (degrees)"},
   "x2": {"field": "x2"},
   "y": {"field": "y", "type": "quantitative", "title": "Intensity (Arbitrary Value)"},
   "y2": {"field": "y2"}
  }
 },
 {
  "data": {"values": [{"y": 670}]},
  "mark": {"type": "rule", "color": "black", "strokeWidth": 2},
  "encoding": {"y": {"field": "y", "type": "quantitative", "title": "Intensity (Arbitrary Value)"}}
 },
 {
  "data": {"name": "xrd"},
  "mark": {"type": "line", "strokeWidth": 2.5, "strokeJoin": "miter", "clip": true},
  "encoding": {
   "x": {"field": "x", "type": "quantitative",
    "scale": {"domain": [27.95, 67.75], "nice": false, "zero": false},
    "axis": {"values": [30, 32.5, 35, 37.5, 40, 42.5, 45, 47.5, 50, 52.5, 55, 57.5, 60, 62.5, 65, 67.5],
      "labelExpr": "datum.value % 5 == 0 ? datum.label : ''",
      "labelPadding": 17, "labelFlush": false, "labelOverlap": false,
      "title": "2θ (degrees)", "titleBaseline": "alphabetic", "titleAlign": "center", "titleX": 402, "titleY": 79}},
   "y": {"field": "y", "type": "quantitative",
    "scale": {"domain": [0, 670], "nice": false, "zero": false},
    "axis": {"labels": false, "ticks": false, "title": "Intensity (Arbitrary Value)", "titleFontSize": 35, "titleAngle": -90, "titleX": -11, "titleY": 365, "titleAlign": "center", "titleBaseline": "alphabetic"}},
   "color": {"field": "s", "type": "nominal", "legend": null,
    "scale": {"domain": ["AP", "300", "350", "400", "450", "500"], "range": ["#e61414", "#1010ea", "#1010ea", "#1010ea", "#1010ea", "#1010ea"]}},
   "order": {"field": "x", "type": "quantitative"}
  }
 },
 {
  "data": {"values": [
   {"x": 30.20, "y": 546.7}, {"x": 35.60, "y": 593.3}, {"x": 37.23, "y": 533.3}, {"x": 43.25, "y": 541.7},
   {"x": 47.37, "y": 528.3}, {"x": 53.68, "y": 534}, {"x": 57.21, "y": 531.7}, {"x": 62.83, "y": 554},
   {"x": 29.02, "y": 651.7}
  ]},
  "mark": {"type": "point", "shape": "circle", "filled": true, "color": "black", "opacity": 1, "size": 256},
  "encoding": {
   "x": {"field": "x", "type": "quantitative", "title": "2θ (degrees)"},
   "y": {"field": "y", "type": "quantitative", "title": "Intensity (Arbitrary Value)"}
  }
 },
 {
  "data": {"values": [
   {"x": 30.47, "y": 470}, {"x": 31.17, "y": 453.3}, {"x": 32.51, "y": 492.7}, {"x": 34.33, "y": 500.7},
   {"x": 35.96, "y": 453.3}, {"x": 37.28, "y": 470}, {"x": 38.66, "y": 450}, {"x": 40.56, "y": 460.7},
   {"x": 42.71, "y": 456}, {"x": 54.12, "y": 450}, {"x": 55.39, "y": 465}, {"x": 57.05, "y": 470},
   {"x": 60.52, "y": 449.3}, {"x": 63.36, "y": 469.3}, {"x": 29.06, "y": 591.7}
  ]},
  "mark": {"type": "point", "shape": "triangle-up", "filled": true, "color": "black", "opacity": 1, "size": 361},
  "encoding": {
   "x": {"field": "x", "type": "quantitative", "title": "2θ (degrees)"},
   "y": {"field": "y", "type": "quantitative", "title": "Intensity (Arbitrary Value)"}
  }
 },
 {
  "data": {"values": [{"x": 33.29, "y": 140}, {"x": 28.94, "y": 623.3}]},
  "mark": {"type": "point", "shape": "diamond", "filled": true, "color": "black", "opacity": 1, "size": 400},
  "encoding": {
   "x": {"field": "x", "type": "quantitative", "title": "2θ (degrees)"},
   "y": {"field": "y", "type": "quantitative", "title": "Intensity (Arbitrary Value)"}
  }
 },
 {
  "data": {"values": [
   {"x": 30.57, "y": 645, "t": "Fe₃O₄"}, {"x": 30.41, "y": 615, "t": "αFe₂O₃"}, {"x": 30.33, "y": 585, "t": "SFO"}
  ]},
  "mark": {"type": "text", "align": "left", "baseline": "alphabetic", "fontSize": 23, "color": "black"},
  "encoding": {
   "x": {"field": "x", "type": "quantitative", "title": "2θ (degrees)"},
   "y": {"field": "y", "type": "quantitative", "title": "Intensity (Arbitrary Value)"},
   "text": {"field": "t"}
  }
 },
 {
  "data": {"values": [
   {"x": 64.08, "y": 513.3, "t": "500°C"}, {"x": 64.02, "y": 412, "t": "450°C"}, {"x": 64.02, "y": 315, "t": "400°C"},
   {"x": 64.13, "y": 217, "t": "350°C"}, {"x": 64.18, "y": 123, "t": "300°C"}, {"x": 58.42, "y": 48, "t": "As-precipitated"}
  ]},
  "mark": {"type": "text", "align": "left", "baseline": "alphabetic", "fontSize": 28, "color": "black"},
  "encoding": {
   "x": {"field": "x", "type": "quantitative", "title": "2θ (degrees)"},
   "y": {"field": "y", "type": "quantitative", "title": "Intensity (Arbitrary Value)"},
   "text": {"field": "t"}
  }
 },
 {
  "data": {"values": [{"x": 58.64, "y": 635, "t": "Composite SFO-(Fe-O)"}]},
  "mark": {"type": "text", "align": "center", "baseline": "alphabetic", "fontSize": 31, "color": "black"},
  "encoding": {
   "x": {"field": "x", "type": "quantitative", "title": "2θ (degrees)"},
   "y": {"field": "y", "type": "quantitative", "title": "Intensity (Arbitrary Value)"},
   "text": {"field": "t"}
  }
 }
]
}
